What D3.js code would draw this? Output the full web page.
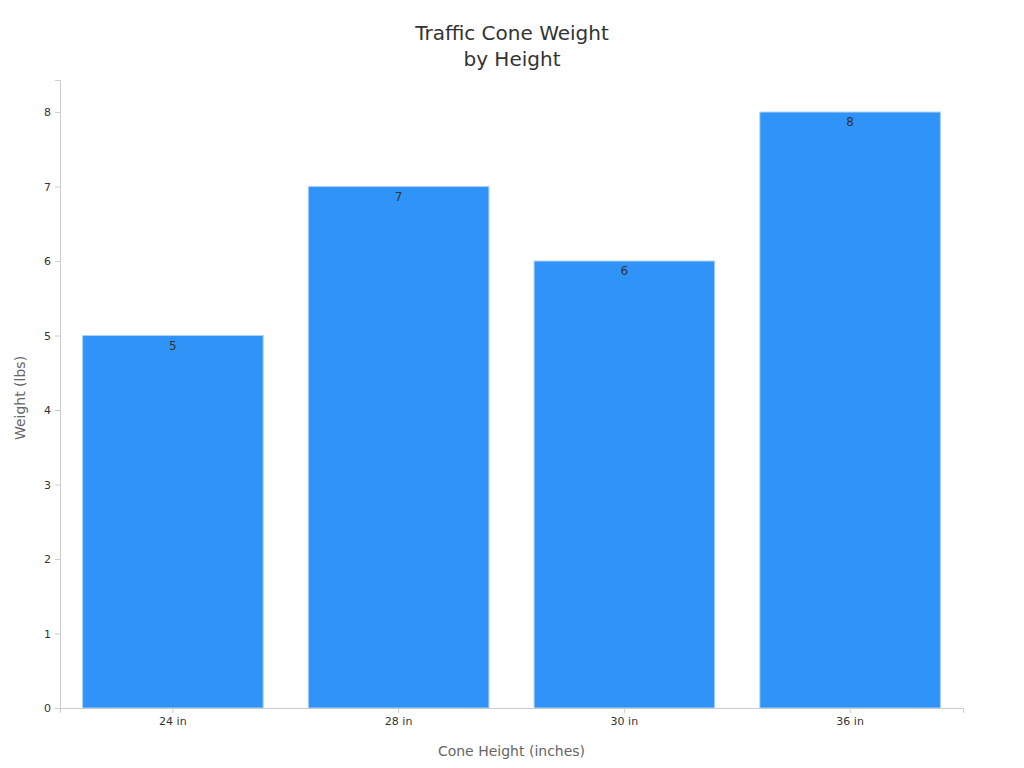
<!DOCTYPE html>
<html>
<head>
<meta charset="utf-8">
<script src="https://cdn.jsdelivr.net/npm/d3@7"></script>
<style>
  body { margin: 0; background: #fff; }
  text { font-family: "DejaVu Sans", sans-serif; }
</style>
</head>
<body>
<svg id="chart" width="1024" height="768"></svg>
<script>
const heights = ['24 in', '28 in', '30 in', '36 in'];
const weights = [5, 7, 6, 8];
const yTicks = [0, 1, 2, 3, 4, 5, 6, 7, 8];

const svg = d3.select('#chart');
const margin = { left: 60, right: 61, top: 80, bottom: 60 };
const width = 1024 - margin.left - margin.right;
const height = 768 - margin.top - margin.bottom;

const x = d3.scaleBand().domain(heights).range([0, width]).paddingInner(0.2).paddingOuter(0.1);
const y = d3.scaleLinear().domain([0, 8.43]).range([height, 0]);

const g = svg.append('g').attr('transform', `translate(${margin.left},${margin.top})`);

// title
svg.append('text').attr('x', 512).attr('y', 40).attr('text-anchor', 'middle')
  .attr('font-size', 20).attr('fill', '#333').text('Traffic Cone Weight');
svg.append('text').attr('x', 512).attr('y', 66).attr('text-anchor', 'middle')
  .attr('font-size', 20).attr('fill', '#333').text('by Height');

// bars
g.selectAll('rect').data(weights).enter().append('rect')
  .attr('x', (d, i) => x(heights[i]))
  .attr('y', d => y(d))
  .attr('width', x.bandwidth())
  .attr('height', d => height - y(d))
  .attr('fill', '#2f93f8')
  .attr('stroke', '#a9d1fb')
  .attr('stroke-width', 1);

g.selectAll('.val').data(weights).enter().append('text')
  .attr('class', 'val')
  .attr('x', (d, i) => x(heights[i]) + x.bandwidth() / 2)
  .attr('y', d => y(d) + 14)
  .attr('text-anchor', 'middle')
  .attr('font-size', 12).attr('fill', '#333')
  .text(d => d);

// axes
const yAxis = g.append('g').call(d3.axisLeft(y).tickValues(yTicks).tickSize(5).tickPadding(4));
const xAxis = g.append('g').attr('transform', `translate(0,${height})`)
  .call(d3.axisBottom(x).tickSize(5).tickPadding(4));
[yAxis, xAxis].forEach(a => {
  a.selectAll('path, line').attr('stroke', '#ccc');
  a.selectAll('text').attr('font-size', 11).attr('fill', '#333').style('font-family', '"DejaVu Sans", sans-serif');
});

svg.append('text').attr('x', margin.left + width / 2).attr('y', 756).attr('text-anchor', 'middle')
  .attr('font-size', 14).attr('fill', '#666').text('Cone Height (inches)');
svg.append('text').attr('transform', `translate(25,${margin.top + height / 2 + 4}) rotate(-90)`)
  .attr('text-anchor', 'middle').attr('font-size', 14).attr('fill', '#666').text('Weight (lbs)');
</script>
</body>
</html>
